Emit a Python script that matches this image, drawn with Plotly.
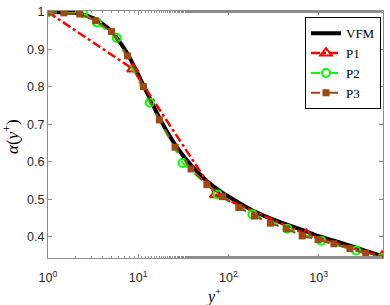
import plotly.graph_objects as go

# ---- data ----
vfm_x = [1, 1.5, 2.25, 3.37, 5.06, 7.6, 11.4, 17.1, 25.6, 38.4, 57.6, 86, 130, 194, 291, 437, 655, 983, 1474, 2210, 3310, 5030]
vfm_y = [1.0, 0.999, 0.996, 0.981, 0.949, 0.889, 0.805, 0.718, 0.646, 0.591, 0.549, 0.517, 0.491, 0.467, 0.449, 0.433, 0.418, 0.402, 0.389, 0.376, 0.362, 0.348]

p1_x = [1, 8.7, 71.8, 728, 5030]
p1_y = [1.0, 0.848, 0.512, 0.406, 0.347]

p2_x = [1, 2.44, 3.48, 5.79, 13.4, 31.0, 75.5, 184, 449, 1066, 2597, 5030]
p2_y = [1.0, 0.997, 0.972, 0.931, 0.758, 0.597, 0.513, 0.460, 0.421, 0.389, 0.363, 0.342]

p3_x = [1, 1.5, 2.25, 3.37, 5.06, 7.6, 11.4, 17.1, 25.6, 38.4, 57.6, 86, 130, 194, 291, 437, 655, 983, 1474, 2210, 3310, 5030]
p3_y = [1.0, 0.998, 0.995, 0.977, 0.948, 0.883, 0.801, 0.712, 0.639, 0.581, 0.539, 0.507, 0.478, 0.455, 0.436, 0.421, 0.402, 0.392, 0.381, 0.368, 0.355, 0.342]

x_tickvals = [1, 10, 100, 1000]
x_ticktext = ["10<sup>0</sup>", "10<sup>1</sup>", "10<sup>2</sup>", "10<sup>3</sup>"]
y_tickvals = [0.4, 0.5, 0.6, 0.7, 0.8, 0.9, 1.0]
y_ticktext = ["0.4", "0.5", "0.6", "0.7", "0.8", "0.9", "1"]

RED = "#FF0000"
GREEN = "#00FF00"
BROWN = "rgb(158,72,18)"

fig = go.Figure()
fig.add_trace(go.Scatter(x=vfm_x, y=vfm_y, mode="lines", name="VFM",
                         line=dict(color="black", width=4, shape="spline", smoothing=0.6)))
fig.add_trace(go.Scatter(x=p1_x, y=p1_y, mode="lines+markers", name="P1",
                         line=dict(color=RED, width=2.5, dash="dashdot"),
                         marker=dict(symbol="triangle-up-open", size=10, color=RED, line=dict(width=2, color=RED))))
fig.add_trace(go.Scatter(x=p2_x, y=p2_y, mode="lines+markers", name="P2",
                         line=dict(color=GREEN, width=2, dash="dash"),
                         marker=dict(symbol="circle-open", size=8, color=GREEN, line=dict(width=2, color=GREEN))))
fig.add_trace(go.Scatter(x=p3_x, y=p3_y, mode="lines+markers", name="P3",
                         line=dict(color=BROWN, width=2, dash="dash"),
                         marker=dict(symbol="square", size=7, color=BROWN)))

axis_common = dict(showline=True, linecolor="#8c8c8c", linewidth=1, mirror="ticks",
                   ticks="inside", tickcolor="#8c8c8c", ticklen=4, showgrid=False, zeroline=False,
                   tickfont=dict(family="Liberation Sans, Arial", size=12.5, color="#262626"))

fig.update_xaxes(type="log", range=[0, 3.712], tickvals=x_tickvals, ticktext=x_ticktext,
                 minor=dict(ticks="inside", ticklen=2, tickcolor="#8c8c8c", showgrid=False),
                 ticklabelstandoff=8, **axis_common)
fig.update_yaxes(range=[0.343, 1.003], tickvals=y_tickvals, ticktext=y_ticktext, **axis_common)

fig.update_layout(
    width=390, height=305,
    margin=dict(l=48, r=6, t=6, b=47),
    plot_bgcolor="white", paper_bgcolor="white",
    showlegend=True,
    legend=dict(x=0.994, y=0.975, xanchor="right", yanchor="top",
                bordercolor="black", borderwidth=1, bgcolor="white",
                font=dict(family="Liberation Serif, Times New Roman, serif", size=13, color="black"),
                itemwidth=30, tracegroupgap=0),
    annotations=[
        dict(text="<i>y</i><sup>+</sup>", xref="paper", yref="paper", x=0.494, y=0,
             yshift=-25, showarrow=False, yanchor="top",
             font=dict(family="Liberation Serif, Times New Roman, serif", size=16, color="black")),
        dict(text="<i>α</i>(<i>y</i><sup>+</sup>)", xref="paper", yref="paper", x=0, y=0.49,
             xshift=-37, showarrow=False, textangle=-90, xanchor="center",
             font=dict(family="Liberation Serif, Times New Roman, serif", size=17, color="black")),
    ],
)

fig.write_html("out.html", config={"displayModeBar": False},
               post_script="document.body.style.margin='0';document.body.style.padding='0';")
